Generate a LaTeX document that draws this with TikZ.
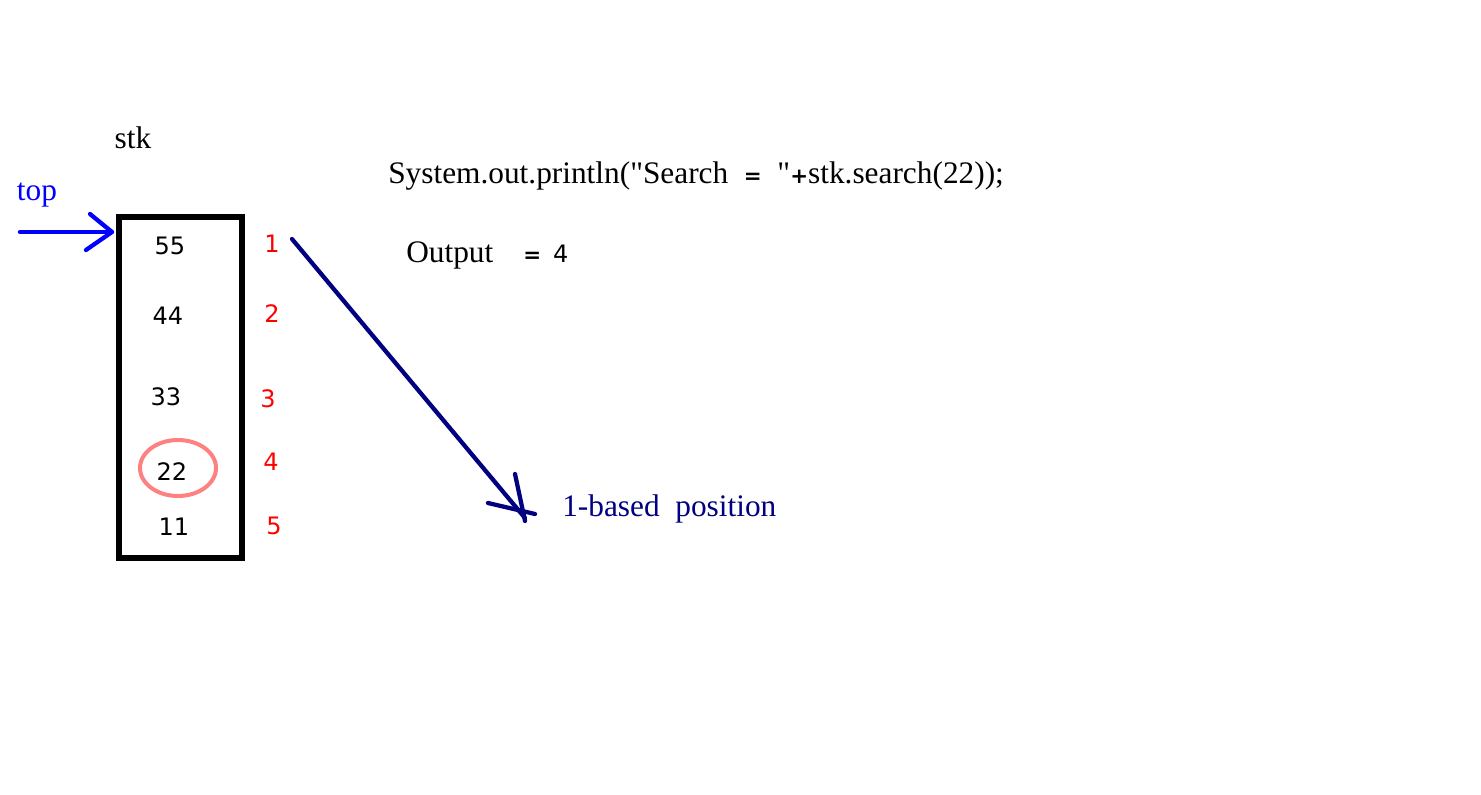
\documentclass[tikz,border=0pt]{standalone}
\usepackage{fontspec}
\setmainfont{Liberation Serif}[Ligatures=TeXOff]
\newfontfamily\djv{DejaVu Sans}
\definecolor{navy}{HTML}{000080}
\definecolor{salmon}{HTML}{FF8080}
\tikzset{
  txt/.style={inner sep=0pt, font=\fontsize{23.5}{27}\selectfont},
  num/.style={inner sep=0pt, font=\djv\fontsize{18}{21}\selectfont},
  rnum/.style={inner sep=0pt, text=red, font=\djv\fontsize{18}{21}\selectfont},
  stroke/.style={line width=3.2pt, line cap=round, line join=round},
  stackbox/.style={draw, line width=3.8pt, inner sep=0pt, minimum width=92.25pt, minimum height=255.75pt},
}
\newcommand{\sym}[1]{{\djv\bfseries\fontsize{16}{19}\selectfont #1}}
\begin{document}
\begin{tikzpicture}[x=0.75pt,y=-0.75pt]
\useasboundingbox (0,0) rectangle (1481,795);
\node[txt] (stk) at (133,138) {stk};
\node[txt, text=blue] (top) at (37,195) {top};
\node[stackbox] (box) at (180.5,387.5) {};
\coordinate (topstart) at (20,232);
\coordinate (toptip) at (112,232);
\draw[stroke, blue] (topstart) -- (toptip);
\draw[stroke, blue] (90,214) -- (toptip) -- (86,250);
\node[num] (n55) at (170,246) {55};
\node[num] (n44) at (168,316) {44};
\node[num] (n33) at (166,397) {33};
\node[num] (n22) at (172,472) {22};
\node[num] (n11) at (174,527) {11};
\draw[salmon, line width=3pt] (178,468) ellipse [x radius=38, y radius=28];
\node[rnum] (r1) at (272,244) {1};
\node[rnum] (r2) at (272,314) {2};
\node[rnum] (r3) at (268,399) {3};
\node[rnum] (r4) at (271,462) {4};
\node[rnum] (r5) at (274,526) {5};
\coordinate (astart) at (292,239);
\coordinate (atip) at (525,518);
\draw[stroke, navy] (astart) -- (atip);
\draw[stroke, navy] (515,474) -- (525,521);
\draw[stroke, navy] (488,503) -- (535,514);
\node[txt, anchor=west] (code) at (388,176) {System.out.println("Search\ \ \sym{=}\ \ "\sym{+}stk.search(22));};
\node[txt, anchor=west] (out) at (406,255) {Output};
\node[anchor=west, inner sep=0pt] (outv) at (523,254) {\sym{=}\hspace{9pt}{\djv\fontsize{18}{21}\selectfont 4}};
\node[txt, text=navy, anchor=west] (lbl) at (562,509) {1-based\ \ position};
\end{tikzpicture}
\end{document}
